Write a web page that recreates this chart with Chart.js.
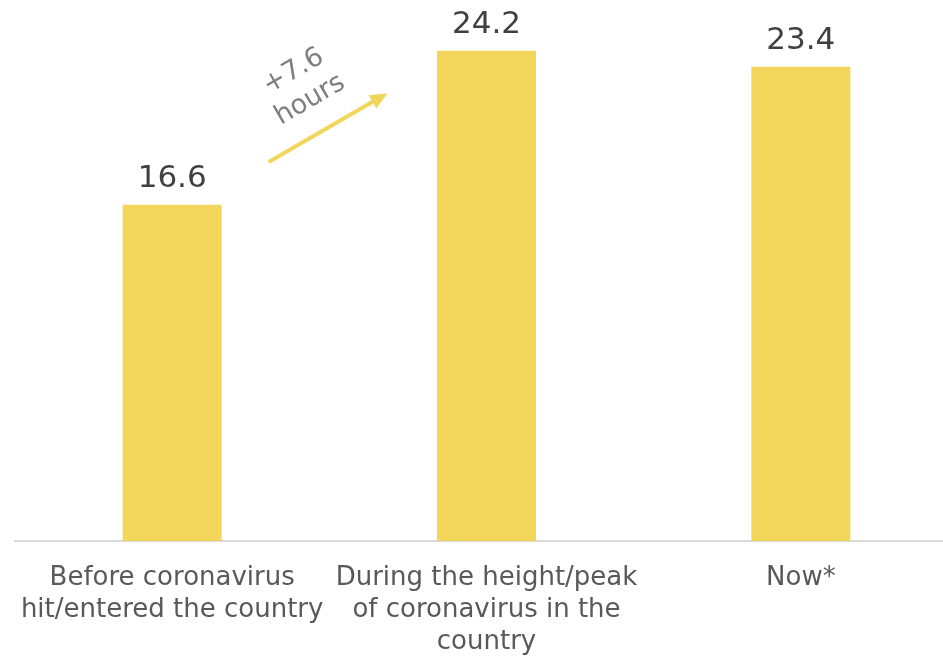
<!DOCTYPE html>
<html>
<head>
<meta charset="utf-8">
<script src="https://cdn.jsdelivr.net/npm/chart.js@4.4.1/dist/chart.umd.min.js"></script>
<style>
    html, body { margin: 0; padding: 0; background: #fff; overflow: hidden; }
    #wrap { width: 958px; height: 656px; position: relative; }
</style>
</head>
<body>
<div id="wrap"><canvas id="barChart"></canvas></div>
<script>
var categories = [
    ['Before coronavirus', 'hit/entered the country'],
    ['During the height/peak', 'of coronavirus in the', 'country'],
    ['Now*']
];
var hoursValues = [16.6, 24.2, 23.4];

// annotation between the first two bars (category index / value units)
var changeLabel = ['+7.6', 'hours'];
var arrowFrom = [0.307, 18.7];
var arrowTo = [0.685, 22.1];

var barColor = '#F2D65C';
var fontName = "'DejaVu Sans', Verdana, sans-serif";

/**
 * value labels above each bar
 */
var valueLabels = {
    id: 'valueLabels',
    afterDatasetsDraw: function (chart) {
        var ctx = chart.ctx;
        var meta = chart.getDatasetMeta(0);
        ctx.save();
        ctx.fillStyle = '#404040';
        ctx.font = '31px ' + fontName;
        ctx.textAlign = 'center';
        ctx.textBaseline = 'alphabetic';
        for (var i = 0; i < meta.data.length; i++) {
            var bar = meta.data[i];
            ctx.fillText(hoursValues[i].toFixed(1), bar.x, bar.y - 18);
        }
        ctx.restore();
    }
};

/**
 * arrow with the "+7.6 hours" note
 */
var changeArrow = {
    id: 'changeArrow',
    afterDatasetsDraw: function (chart) {
        var ctx = chart.ctx;
        var xs = chart.scales.x;
        var ys = chart.scales.y;
        var x1 = xs.getPixelForValue(arrowFrom[0]);
        var y1 = ys.getPixelForValue(arrowFrom[1]);
        var x2 = xs.getPixelForValue(arrowTo[0]);
        var y2 = ys.getPixelForValue(arrowTo[1]);
        var ang = Math.atan2(y2 - y1, x2 - x1);
        var head = 19;

        ctx.save();
        ctx.strokeStyle = barColor;
        ctx.fillStyle = barColor;
        ctx.lineWidth = 4;
        ctx.beginPath();
        ctx.moveTo(x1, y1);
        ctx.lineTo(x2 - Math.cos(ang) * head * 0.8, y2 - Math.sin(ang) * head * 0.8);
        ctx.stroke();
        ctx.beginPath();
        ctx.moveTo(x2, y2);
        ctx.lineTo(x2 - head * Math.cos(ang - 0.42), y2 - head * Math.sin(ang - 0.42));
        ctx.lineTo(x2 - head * Math.cos(ang + 0.42), y2 - head * Math.sin(ang + 0.42));
        ctx.closePath();
        ctx.fill();

        // text sits above the middle of the arrow
        var mx = (x1 + x2) / 2;
        var my = (y1 + y2) / 2;
        var cx = mx + Math.sin(ang) * 48 - 2;
        var cy = my - Math.cos(ang) * 48;
        ctx.translate(cx, cy);
        ctx.rotate(ang);
        ctx.fillStyle = '#7F7F7F';
        ctx.font = '27px ' + fontName;
        ctx.textAlign = 'center';
        ctx.textBaseline = 'middle';
        ctx.fillText(changeLabel[0], 0, -17);
        ctx.fillText(changeLabel[1], 0, 16);
        ctx.restore();
    }
};

var ctx = document.getElementById('barChart');
var myChart = new Chart(ctx, {
    type: 'bar',
    data: {
        labels: categories,
        datasets: [
            {
                label: 'Hours',
                data: hoursValues,
                backgroundColor: barColor,
                borderWidth: 0,
                categoryPercentage: 1,
                barPercentage: 0.315
            }
        ]
    },
    options: {
        responsive: true,
        maintainAspectRatio: false,
        animation: false,
        layout: {
            padding: { left: 15, right: 0, top: 0, bottom: 0 }
        },
        plugins: {
            legend: { display: false },
            tooltip: { enabled: false }
        },
        scales: {
            x: {
                grid: { display: false },
                border: { display: true, color: '#D9D9D9', width: 2 },
                ticks: {
                    color: '#595959',
                    padding: 13,
                    maxRotation: 0,
                    autoSkip: false,
                    font: { family: fontName, size: 26, lineHeight: 1.23 }
                },
                afterFit: function (scale) {
                    scale.height = 115;
                }
            },
            y: {
                display: false,
                min: 0,
                max: 26.7
            }
        }
    },
    plugins: [valueLabels, changeArrow]
});
</script>
</body>
</html>
